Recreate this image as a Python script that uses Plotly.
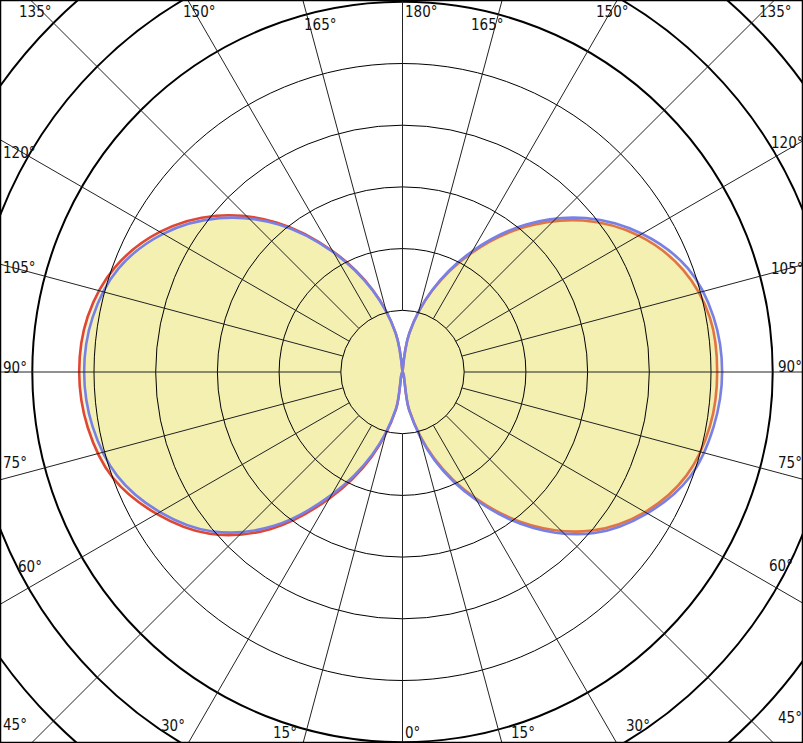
import numpy as np
import plotly.graph_objects as go

# luminous intensity per plane (cd/klm), gamma measured from nadir
gamma = [0, 10, 20, 30, 40, 50, 60, 70, 80, 90, 100, 110, 120, 130, 140, 150, 160, 170, 180]
c0 = [0, 31, 74, 118, 162, 200, 227, 245, 253, 255, 253, 242, 221, 191, 153, 111, 70, 32, 0]
c180 = [0, 31, 73, 118, 166, 204, 230, 250, 259, 262, 259, 248, 227, 197, 158, 113, 71, 32, 0]
c90 = [0, 32, 76, 120, 165, 203, 229, 248, 256, 259, 256, 246, 224, 194, 156, 113, 71, 32, 0]
c270 = [0, 30, 71, 115, 163, 201, 227, 246, 255, 258, 255, 245, 224, 194, 156, 112, 70, 32, 0]

grid_radii = [50, 100, 150, 200, 250, 300, 350, 400]
spoke_angles = list(range(0, 181, 15))
angle_labels = ['135°', '150°', '165°', '180°', '165°', '150°', '135°',
                '120°', '105°', '90°', '75°', '60°', '45°',
                '30°', '15°', '0°', '15°', '30°',
                '45°', '60°', '75°', '90°', '105°', '120°']

W, H = 803, 743
CX, CY = 402.5, 372.0          # pole position in pixels
PX_PER_UNIT = 61.7 / 50


def plane_xy(right_vals, left_vals):
    g = np.radians(gamma)
    r_right = np.array(right_vals, dtype=float)
    r_left = np.array(left_vals, dtype=float)[::-1]
    x = np.concatenate([r_right * np.sin(g), -r_left * np.sin(g[::-1])])
    y = np.concatenate([-r_right * np.cos(g), -r_left * np.cos(g[::-1])])
    return x, y


fig = go.Figure()

fill = 'rgba(232,224,104,0.3)'
x, y = plane_xy(c0, c180)
fig.add_trace(go.Scatter(x=x, y=y, mode='lines', fill='toself', fillcolor=fill,
                         line=dict(color='#e04634', width=2.6, shape='spline'),
                         name='C0-C180'))
x, y = plane_xy(c90, c270)
fig.add_trace(go.Scatter(x=x, y=y, mode='lines', fill='toself', fillcolor=fill,
                         line=dict(color='#7880e6', width=2.6, shape='spline'),
                         name='C90-C270'))

shapes = []
for r in grid_radii:
    thick = r >= 300
    shapes.append(dict(type='circle', xref='x', yref='y', x0=-r, x1=r, y0=-r, y1=r,
                       line=dict(color='black', width=2 if thick else 1), layer='above'))
for a in spoke_angles:
    t = np.radians(a)
    for side in (1, -1):
        if side == -1 and a in (0, 180):
            continue
        shapes.append(dict(type='line', xref='x', yref='y',
                           x0=side * 50 * np.sin(t), y0=-50 * np.cos(t),
                           x1=side * 500 * np.sin(t), y1=-500 * np.cos(t),
                           line=dict(color='#222', width=1), layer='above'))
shapes.append(dict(type='rect', xref='paper', yref='paper', x0=0, x1=1, y0=0, y1=1,
                   line=dict(color='black', width=2.5), layer='above'))

# label anchor points in pixels (left, top)
label_pos = [(18, 2), (182, 2), (303, 15), (404, 2), (470, 15), (595, 2), (758, 2),
             (2, 143), (2, 258), (2, 358), (2, 453), (17, 557), (2, 715),
             (160, 716), (272, 723), (404, 723), (510, 723), (625, 716),
             (777, 708), (768, 556), (777, 453), (777, 357), (770, 259), (770, 133)]
annotations = []
for txt, (lx, ty) in zip(angle_labels, label_pos):
    annotations.append(dict(text=txt, xref='paper', yref='paper', x=lx / W, y=1 - ty / H,
                            xanchor='left', yanchor='top', showarrow=False, borderpad=0,
                            font=dict(family='DejaVu Sans Condensed, DejaVu Sans', size=15,
                                      color='#111')))

fig.update_layout(
    width=W, height=H,
    margin=dict(l=0, r=0, t=0, b=0),
    paper_bgcolor='white', plot_bgcolor='white',
    showlegend=False,
    shapes=shapes,
    annotations=annotations,
    xaxis=dict(range=[-CX / PX_PER_UNIT, (W - CX) / PX_PER_UNIT], visible=False, fixedrange=True),
    yaxis=dict(range=[-(H - CY) / PX_PER_UNIT, CY / PX_PER_UNIT], visible=False, fixedrange=True),
)

fig.write_html("out.html", config={'displayModeBar': False},
               post_script="document.body.style.margin='0px';document.body.style.overflow='hidden';")
